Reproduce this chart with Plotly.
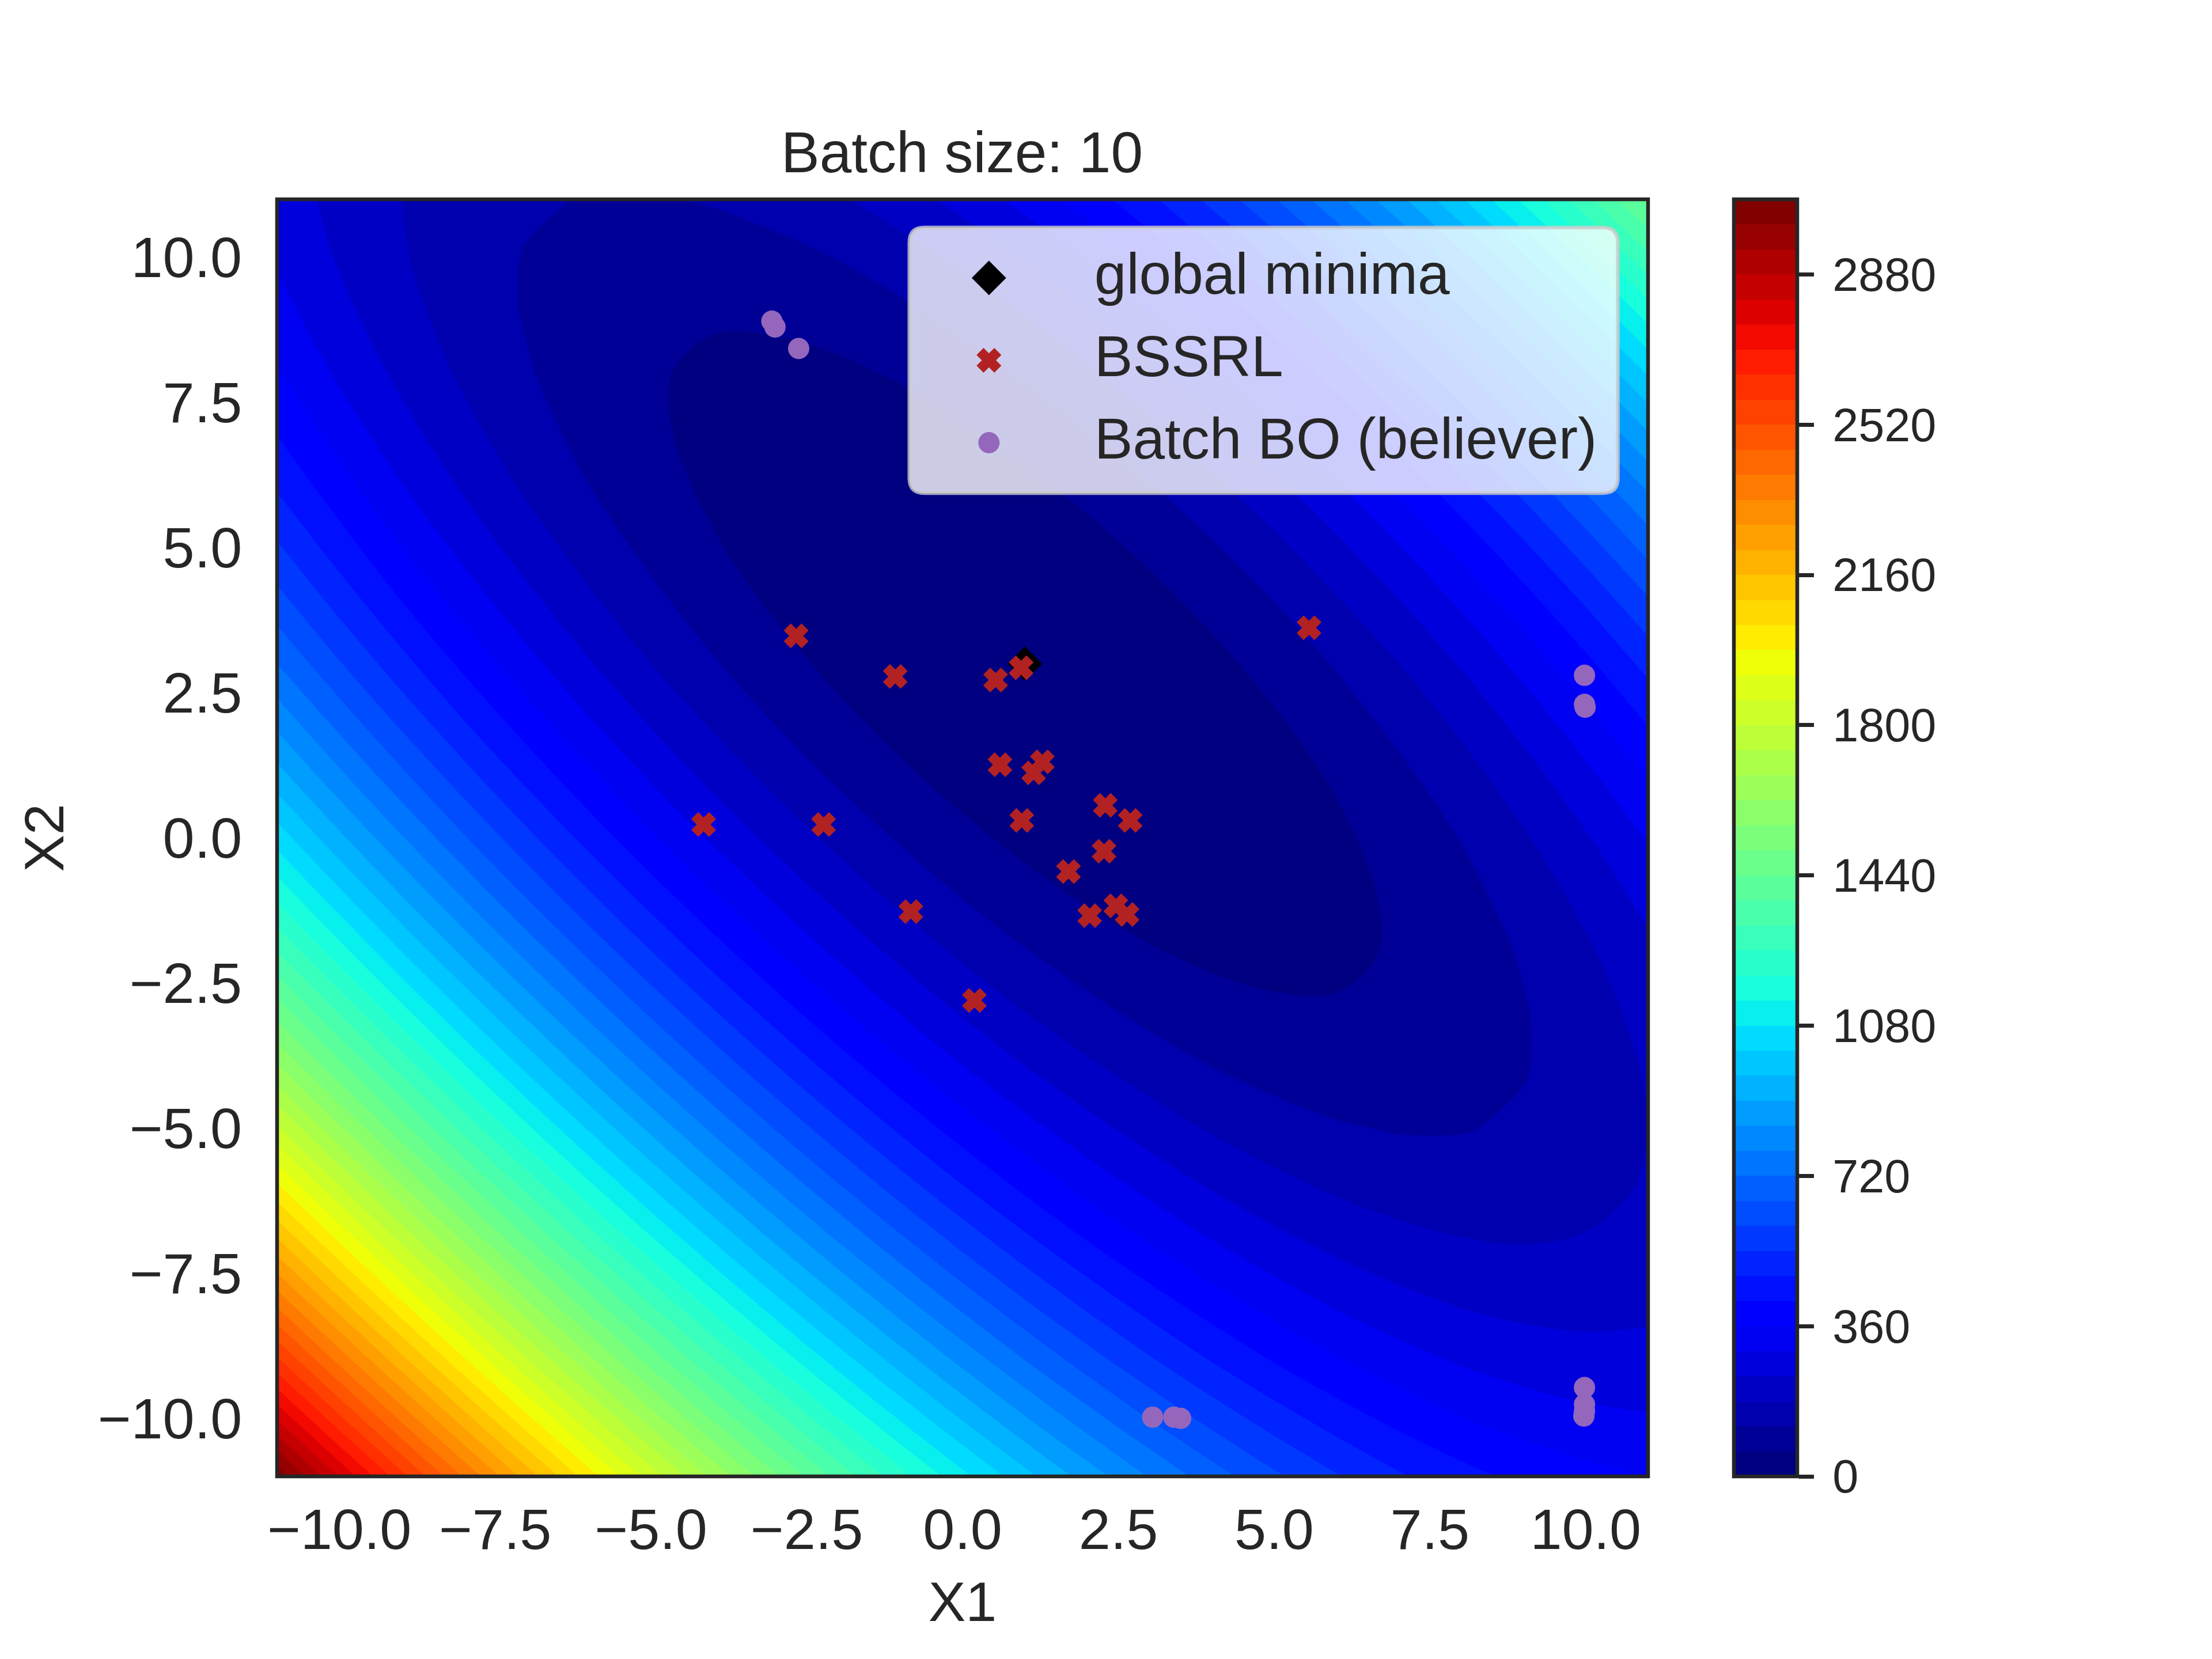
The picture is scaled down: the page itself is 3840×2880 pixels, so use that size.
# booth_contour_batch10.py
import plotly.graph_objects as go

INK = "#262626"
FONT = "Liberation Sans"

# grid of the filled surface, values
grid_x = list(range(-11, 12))
grid_y = list(range(-11, 12))
z_rows = [
    [3044, 2817, 2600, 2393, 2196, 2009, 1832, 1665, 1508, 1361, 1224, 1097, 980, 873, 776, 689, 612, 545, 488, 441, 404, 377, 360],
    [2813, 2594, 2385, 2186, 1997, 1818, 1649, 1490, 1341, 1202, 1073, 954, 845, 746, 657, 578, 509, 450, 401, 362, 333, 314, 305],
    [2592, 2381, 2180, 1989, 1808, 1637, 1476, 1325, 1184, 1053, 932, 821, 720, 629, 548, 477, 416, 365, 324, 293, 272, 261, 260],
    [2381, 2178, 1985, 1802, 1629, 1466, 1313, 1170, 1037, 914, 801, 698, 605, 522, 449, 386, 333, 290, 257, 234, 221, 218, 225],
    [2180, 1985, 1800, 1625, 1460, 1305, 1160, 1025, 900, 785, 680, 585, 500, 425, 360, 305, 260, 225, 200, 185, 180, 185, 200],
    [1989, 1802, 1625, 1458, 1301, 1154, 1017, 890, 773, 666, 569, 482, 405, 338, 281, 234, 197, 170, 153, 146, 149, 162, 185],
    [1808, 1629, 1460, 1301, 1152, 1013, 884, 765, 656, 557, 468, 389, 320, 261, 212, 173, 144, 125, 116, 117, 128, 149, 180],
    [1637, 1466, 1305, 1154, 1013, 882, 761, 650, 549, 458, 377, 306, 245, 194, 153, 122, 101, 90, 89, 98, 117, 146, 185],
    [1476, 1313, 1160, 1017, 884, 761, 648, 545, 452, 369, 296, 233, 180, 137, 104, 81, 68, 65, 72, 89, 116, 153, 200],
    [1325, 1170, 1025, 890, 765, 650, 545, 450, 365, 290, 225, 170, 125, 90, 65, 50, 45, 50, 65, 90, 125, 170, 225],
    [1184, 1037, 900, 773, 656, 549, 452, 365, 288, 221, 164, 117, 80, 53, 36, 29, 32, 45, 68, 101, 144, 197, 260],
    [1053, 914, 785, 666, 557, 458, 369, 290, 221, 162, 113, 74, 45, 26, 17, 18, 29, 50, 81, 122, 173, 234, 305],
    [932, 801, 680, 569, 468, 377, 296, 225, 164, 113, 72, 41, 20, 9, 8, 17, 36, 65, 104, 153, 212, 281, 360],
    [821, 698, 585, 482, 389, 306, 233, 170, 117, 74, 41, 18, 5, 2, 9, 26, 53, 90, 137, 194, 261, 338, 425],
    [720, 605, 500, 405, 320, 245, 180, 125, 80, 45, 20, 5, 0, 5, 20, 45, 80, 125, 180, 245, 320, 405, 500],
    [629, 522, 425, 338, 261, 194, 137, 90, 53, 26, 9, 2, 5, 18, 41, 74, 117, 170, 233, 306, 389, 482, 585],
    [548, 449, 360, 281, 212, 153, 104, 65, 36, 17, 8, 9, 20, 41, 72, 113, 164, 225, 296, 377, 468, 569, 680],
    [477, 386, 305, 234, 173, 122, 81, 50, 29, 18, 17, 26, 45, 74, 113, 162, 221, 290, 369, 458, 557, 666, 785],
    [416, 333, 260, 197, 144, 101, 68, 45, 32, 29, 36, 53, 80, 117, 164, 221, 288, 365, 452, 549, 656, 773, 900],
    [365, 290, 225, 170, 125, 90, 65, 50, 45, 50, 65, 90, 125, 170, 225, 290, 365, 450, 545, 650, 765, 890, 1025],
    [324, 257, 200, 153, 116, 89, 72, 65, 68, 81, 104, 137, 180, 233, 296, 369, 452, 545, 648, 761, 884, 1017, 1160],
    [293, 234, 185, 146, 117, 98, 89, 90, 101, 122, 153, 194, 245, 306, 377, 458, 549, 650, 761, 882, 1013, 1154, 1305],
    [272, 221, 180, 149, 128, 117, 116, 125, 144, 173, 212, 261, 320, 389, 468, 557, 656, 765, 884, 1013, 1152, 1301, 1460],
]

minima_x = [1.0]
minima_y = [3.0]

bssrl_x = [-2.67, -1.08, 0.53, 0.94, 5.56, 0.60, 1.28, 1.14, 2.29, 2.69, 0.95, -4.155, -2.23, 2.27, 1.70, -0.83, 2.04, 2.46, 2.64, 0.19]
bssrl_y = [3.48, 2.78, 2.72, 2.93, 3.62, 1.26, 1.31, 1.12, 0.56, 0.30, 0.30, 0.23, 0.23, -0.23, -0.58, -1.27, -1.34, -1.17, -1.32, -2.80]

bo_x = [-3.06, -3.01, -2.63, 9.98, 9.98, 9.99, 9.98, 9.98, 9.98, 9.97, 3.05, 3.39, 3.50]
bo_y = [8.90, 8.80, 8.43, 2.80, 2.30, 2.25, -9.47, -9.76, -9.87, -9.96, -9.98, -9.98, -10.0]

axis_ticks = [-10, -7.5, -5, -2.5, 0, 2.5, 5, 7.5, 10]
cbar_ticks = [0, 360, 720, 1080, 1440, 1800, 2160, 2520, 2880]

# matplotlib jet anchors, (position, r, g, b)
jet = [
    (0.0, 0, 0, 128), (0.11, 0, 0, 255), (0.125, 0, 0, 255),
    (0.34, 0, 219, 255), (0.35, 0, 230, 247), (0.375, 21, 255, 226),
    (0.64, 238, 255, 8), (0.65, 247, 245, 0), (0.66, 255, 236, 0),
    (0.89, 255, 19, 0), (0.91, 232, 0, 0), (1.0, 128, 0, 0),
]
LEVEL_STEP = 60
LEVEL_TOP = 3060

W, H = 3840, 2880
L, R, T, B = 481, 2861.5, 346, 2563.5  # axes box in pixels


def paper_x(px):
    return (px - L) / (R - L)


def paper_y(py):
    return (B - py) / (B - T)


def rounded_box(x0, y0, x1, y1, r):
    a, b, c, d = paper_x(x0), paper_x(x1), paper_y(y0), paper_y(y1)
    rx, ry = r / (R - L), r / (B - T)
    return (f"M{a + rx},{c} L{b - rx},{c} Q{b},{c} {b},{c - ry} L{b},{d + ry} Q{b},{d} {b - rx},{d} "
            f"L{a + rx},{d} Q{a},{d} {a},{d + ry} L{a},{c - ry} Q{a},{c} {a + rx},{c} Z")


def jet_at(t):
    for (p0, *c0), (p1, *c1) in zip(jet, jet[1:]):
        if t <= p1:
            w = (t - p0) / (p1 - p0)
            return "rgb(%d,%d,%d)" % tuple(a + (b - a) * w for a, b in zip(c0, c1))
    return "rgb(128,0,0)"


# one flat colour per contour band, lowest band navy and top band dark red
n_bands = LEVEL_TOP // LEVEL_STEP
band_colors = [jet_at(k / (n_bands - 1)) for k in range(n_bands)]
cbar_scale = []
contour_scale = [[0, band_colors[0]]]
for k, c in enumerate(band_colors):
    cbar_scale += [[k / n_bands, c], [(k + 1) / n_bands, c]]
    # plotly samples band k of a contour fill at (k + 1) / n_bands, so centre the step on that
    contour_scale += [[(k + 0.5) / n_bands, c], [min((k + 1.5) / n_bands, 1), c]]

fig = go.Figure()
fig.add_trace(go.Contour(
    x=grid_x, y=grid_y, z=z_rows,
    colorscale=contour_scale,
    autocontour=False,
    contours=dict(coloring="fill", start=0, end=LEVEL_TOP - LEVEL_STEP, size=LEVEL_STEP, showlines=False),
    line=dict(width=0),
    showlegend=False,
    showscale=False,
))
fig.add_trace(go.Scatter(x=minima_x, y=minima_y, mode="markers", name="global minima", legendgroup="a",
                         marker=dict(symbol="diamond", size=46, color="black", opacity=1)))
fig.add_trace(go.Scatter(x=bssrl_x, y=bssrl_y, mode="markers", name="BSSRL", legendgroup="b",
                         marker=dict(symbol="x", size=33, color="#B22222", opacity=1,
                                     line=dict(width=4, color="#B22222"))))
fig.add_trace(go.Scatter(x=bo_x, y=bo_y, mode="markers", name="Batch BO (believer)", legendgroup="c",
                         marker=dict(symbol="circle", size=37, color="#9467BD", opacity=1)))
# the contour's own colorbar runs half a level past both ends, so this empty trace carries it
fig.add_trace(go.Scatter(
    x=[None], y=[None], mode="markers", showlegend=False, hoverinfo="skip",
    marker=dict(
        color=[0], cmin=0, cmax=LEVEL_TOP, colorscale=cbar_scale, showscale=True,
        colorbar=dict(
            xref="container", x=3010 / W, xanchor="left", xpad=0,
            y=0.5, yanchor="middle", ypad=0, len=1, lenmode="fraction",
            thickness=110, thicknessmode="pixels",
            outlinewidth=6.5, outlinecolor=INK,
            tickmode="array", tickvals=cbar_ticks, ticktext=["\u2009" + str(v) for v in cbar_ticks],
            ticks="outside", ticklen=26, tickwidth=6.5, tickcolor=INK,
            tickfont=dict(family=FONT, size=81, color=INK),
        ),
    ),
))

axis_style = dict(
    range=[-11, 11], tickmode="array", tickvals=axis_ticks, tickformat=".1f", tickangle=0,
    tickfont=dict(family=FONT, size=99, color=INK),
    ticks="outside", tickcolor="rgba(0,0,0,0)",
    showgrid=False, zeroline=False, showline=False, automargin=False,
)
fig.update_xaxes(**axis_style, ticklen=6,
                 title=dict(text="X1", font=dict(family=FONT, size=97, color=INK), standoff=37))
fig.update_yaxes(**axis_style, ticklen=40,
                 title=dict(text="X2", font=dict(family=FONT, size=97, color=INK), standoff=26))

fig.update_layout(
    width=W, height=H,
    autosize=False,
    paper_bgcolor="white",
    plot_bgcolor="white",
    margin=dict(l=L, r=W - R, t=T, b=H - B, pad=0, autoexpand=False),
    title=dict(text="Batch size: 10", font=dict(family=FONT, size=100, color=INK),
               x=1670 / W, xanchor="center", y=1 - 264 / H, yanchor="middle"),
    legend=dict(
        xref="paper", yref="paper",
        x=paper_x(1600), y=paper_y(400), xanchor="left", yanchor="top",
        bgcolor="rgba(0,0,0,0)", borderwidth=0,
        itemwidth=290, tracegroupgap=10,
        font=dict(family=FONT, size=100, color=INK),
    ),
    shapes=[
        dict(type="rect", xref="paper", yref="paper", x0=0, x1=1, y0=0, y1=1, layer="above",
             line=dict(color=INK, width=6.5)),
        dict(type="path", xref="paper", yref="paper", layer="above",
             path=rounded_box(1579, 395, 2809, 856, 26),
             fillcolor="rgba(255,255,255,0.8)",
             line=dict(color="rgba(204,204,204,0.8)", width=6.5)),
    ],
)

# plotly caps legend symbols at 16px, so blow them up to the plotted size
post_script = """
document.body.style.margin = '0';
var scales = [46 / 16, 33 / 16, 37 / 16];
document.querySelectorAll('.legendpoints path').forEach(function (p, i) {
    p.setAttribute('transform', 'translate(117,11) scale(' + scales[i] + ')');
    if (i === 1) { p.style.strokeWidth = (4 / scales[i]) + 'px'; }
});
"""

fig.write_html("out.html", post_script=post_script, config=dict(displayModeBar=False))
